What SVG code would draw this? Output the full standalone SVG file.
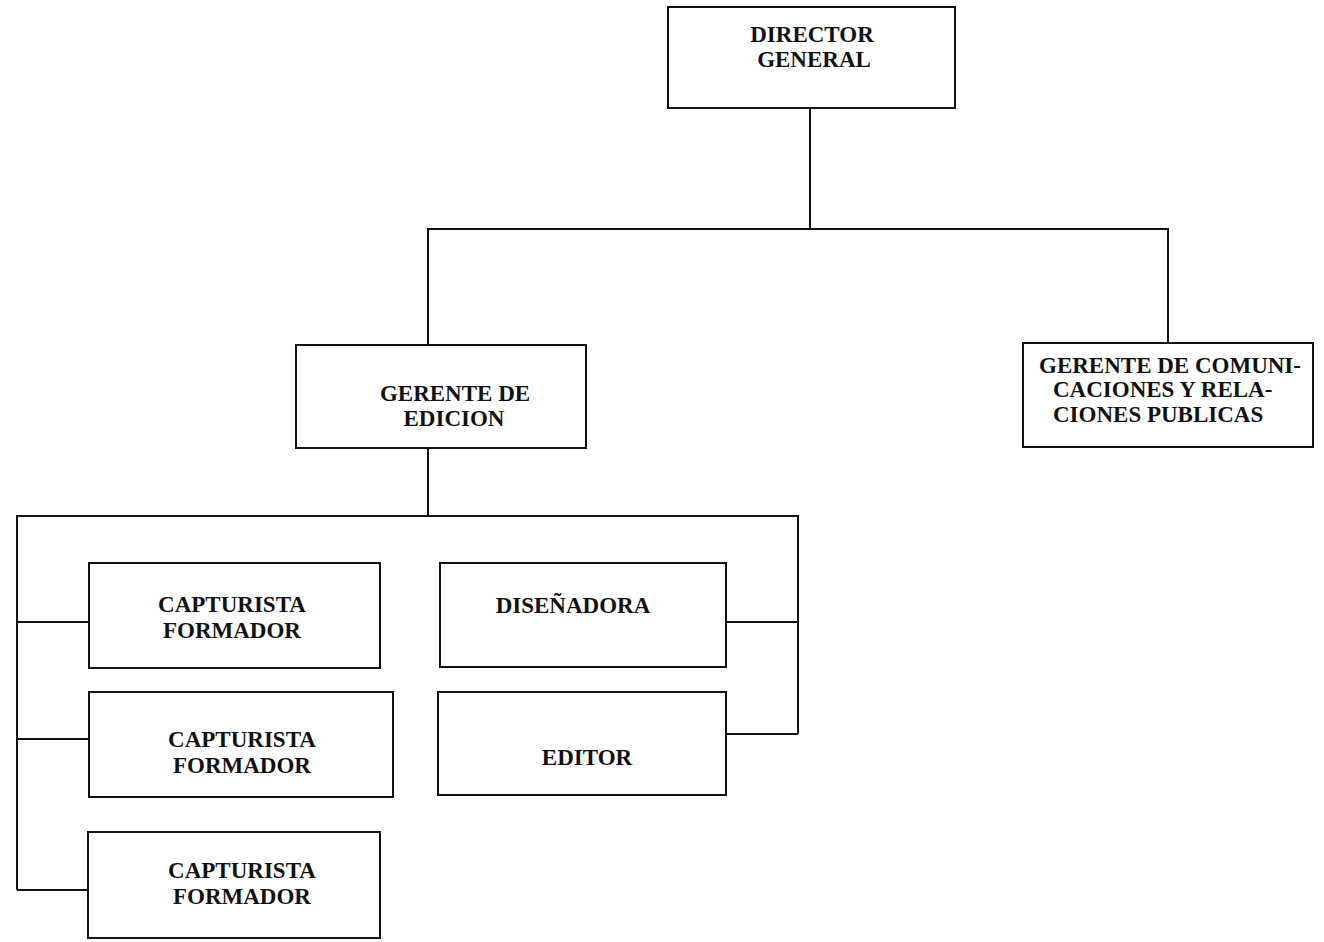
<svg xmlns="http://www.w3.org/2000/svg" width="1324" height="942" viewBox="0 0 1324 942">
  <style>
    .box { fill: #ffffff; stroke: #111111; stroke-width: 2; }
    .wire { fill: none; stroke: #111111; stroke-width: 2; stroke-linejoin: miter; }
    .lbl { font-family: "Liberation Serif", "Times New Roman", serif; font-weight: bold; font-size: 23px; fill: #111111; text-anchor: middle; }
    .lbl-start { text-anchor: start; }
  </style>
  <rect width="1324" height="942" fill="#ffffff"/>

  <!-- reporting lines -->
  <g id="connectors">
    <polyline class="wire" points="810,108 810,229"/>
    <polyline class="wire" points="428,345 428,229 1168,229 1168,343"/>
    <polyline class="wire" points="428,448 428,516"/>
    <polyline class="wire" points="17,890 17,516 798,516 798,734"/>
    <polyline class="wire" points="17,622 89,622"/>
    <polyline class="wire" points="17,739 89,739"/>
    <polyline class="wire" points="17,890 88,890"/>
    <polyline class="wire" points="726,622 798,622"/>
    <polyline class="wire" points="726,734 798,734"/>
  </g>

  <g id="director-general">
    <rect class="box" x="668" y="7" width="287" height="101"/>
    <text class="lbl" x="812" y="42">DIRECTOR</text>
    <text class="lbl" x="814" y="67">GENERAL</text>
  </g>

  <g id="gerente-edicion">
    <rect class="box" x="296" y="345" width="290" height="103"/>
    <text class="lbl" x="455" y="401">GERENTE DE</text>
    <text class="lbl" x="454" y="426">EDICION</text>
  </g>

  <g id="gerente-comunicaciones">
    <rect class="box" x="1023" y="343" width="290" height="104"/>
    <text class="lbl lbl-start" x="1039" y="373">GERENTE DE COMUNI-</text>
    <text class="lbl lbl-start" x="1053" y="397">CACIONES Y RELA-</text>
    <text class="lbl lbl-start" x="1053" y="422">CIONES PUBLICAS</text>
  </g>

  <g id="capturista-1">
    <rect class="box" x="89" y="563" width="291" height="105"/>
    <text class="lbl" x="232" y="612">CAPTURISTA</text>
    <text class="lbl" x="232" y="638">FORMADOR</text>
  </g>

  <g id="capturista-2">
    <rect class="box" x="89" y="692" width="304" height="105"/>
    <text class="lbl" x="242" y="747">CAPTURISTA</text>
    <text class="lbl" x="242" y="773">FORMADOR</text>
  </g>

  <g id="capturista-3">
    <rect class="box" x="88" y="832" width="292" height="106"/>
    <text class="lbl" x="242" y="878">CAPTURISTA</text>
    <text class="lbl" x="242" y="904">FORMADOR</text>
  </g>

  <g id="disenadora">
    <rect class="box" x="440" y="563" width="286" height="104"/>
    <text class="lbl" x="573" y="613">DISEÑADORA</text>
  </g>

  <g id="editor">
    <rect class="box" x="438" y="692" width="288" height="103"/>
    <text class="lbl" x="587" y="765">EDITOR</text>
  </g>
</svg>
